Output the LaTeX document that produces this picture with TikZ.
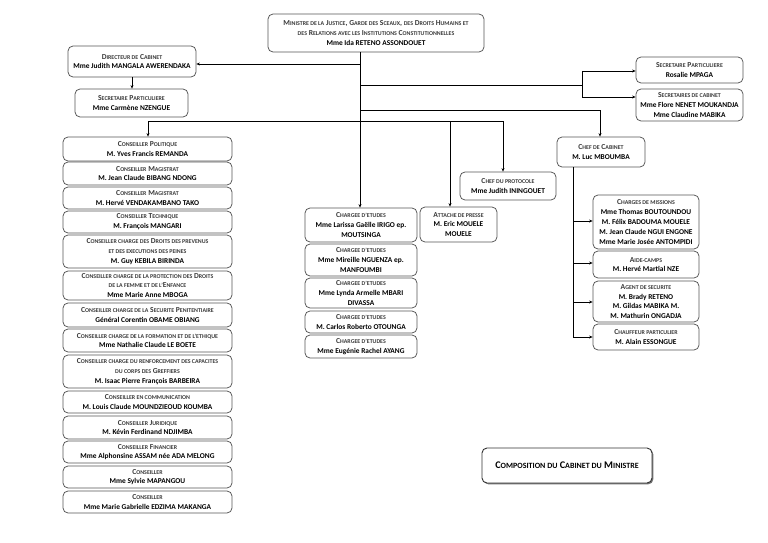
\documentclass[tikz,border=0pt]{standalone}
\usepackage{fontspec}
\setmainfont{Carlito}
\usetikzlibrary{arrows.meta,shadows}
\definecolor{boxc}{HTML}{555555}
\definecolor{labc}{HTML}{3A3A3A}
\newcommand\smc[1]{{\fontsize{5.9}{7}\selectfont\uppercase{#1}}}
\newcommand\lb[1]{{\color{labc}\fontsize{7.6}{9.8}\selectfont #1}}
\newcommand\bx[6]{\node[box,minimum width={(#4)-(#2)},minimum height={(#5)-(#3)}] (#1) at ({((#2)+(#4))/2},{((#3)+(#5))/2}) {#6};}
\begin{document}
\begin{tikzpicture}[x=1pt,y=-1pt,
  box/.style={draw=boxc,line width=0.75pt,rounded corners=5pt,inner sep=0pt,align=center,fill=white,
    font=\fontsize{7.4}{9.8}\selectfont\bfseries},
  ln/.style={line width=0.75pt,black},
  arr/.style={ln,-{Stealth[length=3.5pt,width=3pt]}}]
\useasboundingbox[fill=white] (0,0) rectangle (768,543);

% top
\bx{min}{268}{14}{484}{52}{\lb{M\smc{inistre de la} J\smc{ustice}, G\smc{arde des} S\smc{ceaux}, \smc{des} D\smc{roits} H\smc{umains et}}\\ \lb{\smc{des} R\smc{elations avec les} I\smc{nstitutions} C\smc{onstitutionnelles}}\\ Mme Ida RETENO ASSONDOUET}
\bx{dir}{68}{46}{196}{77}{\lb{D\smc{irecteur de} C\smc{abinet}}\\ Mme Judith MANGALA AWERENDAKA}
\bx{sec}{75}{89}{188}{117}{\lb{S\smc{ecretaire} P\smc{articuliere}}\\ Mme Carmène NZENGUE}
\bx{spr}{636}{57}{743}{83}{\lb{S\smc{ecretaire} P\smc{articuliere}}\\ Rosalie MPAGA}
\bx{scab}{636}{89}{743}{121}{\lb{S\smc{ecretaires de cabinet}}\\ Mme Flore NENET MOUKANDJA\\ Mme Claudine MABIKA}
\bx{chef}{557}{137}{645}{167}{\lb{C\smc{hef de} C\smc{abinet}}\\ M. Luc MBOUMBA}
\bx{prot}{460}{172}{556}{200}{\lb{C\smc{hef du protocole}}\\ Mme Judith ININGOUET}
\bx{att}{420}{207}{497}{242}{\lb{A\smc{ttache de presse}}\\ M. Eric MOUELE\\ MOUELE}

% charges d'etudes
\bx{ce1}{305}{208}{417}{242}{\lb{C\smc{hargee d'etudes}}\\ Mme Larissa Gaëlle IRIGO ep.\\ MOUTSINGA}
\bx{ce2}{305}{244}{417}{276}{\lb{C\smc{hargee d'etudes}}\\ Mme Mireille NGUENZA ep.\\ MANFOUMBI}
\bx{ce3}{305}{278}{417}{308}{\lb{C\smc{hargee d'etudes}}\\ Mme Lynda Armelle MBARI\\ DIVASSA}
\bx{ce4}{305}{311}{417}{333}{\lb{C\smc{hargee d'etudes}}\\ M. Carlos Roberto OTOUNGA}
\bx{ce5}{305}{335}{417}{358}{\lb{C\smc{hargee d'etudes}}\\ Mme Eugénie Rachel AYANG}

% right column
\bx{mis}{593}{195}{699}{249}{\lb{C\smc{harges de missions}}\\ Mme Thomas BOUTOUNDOU\\ M. Félix BADOUMA MOUELE\\ M. Jean Claude NGUI ENGONE\\ Mme Marie Josée ANTOMPIDI}
\bx{aide}{593}{251}{699}{278}{\lb{A\smc{ide-camps}}\\ M. Hervé Martial NZE}
\bx{agent}{593}{281}{699}{322}{\lb{A\smc{gent de securite}}\\ M. Brady RETENO\\ M. Gildas MABIKA M.\\ M. Mathurin ONGADJA}
\bx{chauf}{593}{324}{699}{350}{\lb{C\smc{hauffeur particulier}}\\ M. Alain ESSONGUE}

% left column
\bx{c1}{63}{137}{232}{161}{\lb{C\smc{onseiller} P\smc{olitique}}\\ M. Yves Francis REMANDA}
\bx{c2}{63}{162}{232}{185}{\lb{C\smc{onseiller} M\smc{agistrat}}\\ M. Jean Claude BIBANG NDONG}
\bx{c3}{63}{187}{232}{209}{\lb{C\smc{onseiller} M\smc{agistrat}}\\ M. Hervé VENDAKAMBANO TAKO}
\bx{c4}{63}{211}{232}{233}{\lb{C\smc{onseiller} T\smc{echnique}}\\ M. François MANGARI}
\bx{c5}{63}{235}{232}{268}{\lb{C\smc{onseiller charge des} D\smc{roits des prevenus}}\\ \lb{\smc{et des executions des peines}}\\ M. Guy KEBILA BIRINDA}
\bx{c6}{63}{271}{232}{300}{\lb{C\smc{onseiller charge de la protection des} D\smc{roits}}\\ \lb{\smc{de la femme et de l'}E\smc{nfance}}\\ Mme Marie Anne MBOGA}
\bx{c7}{63}{303}{232}{327}{\lb{C\smc{onseiller charge de la} S\smc{ecurite} P\smc{enitentiaire}}\\ Général Corentin OBAME OBIANG}
\bx{c8}{63}{329}{232}{352}{\lb{C\smc{onseiller charge de la formation et de l'ethique}}\\ Mme Nathalie Claude LE BOETE}
\bx{c9}{63}{355}{232}{388}{\lb{C\smc{onseiller charge du renforcement des capacites}}\\ \lb{\smc{du corps des} G\smc{reffiers}}\\ M. Isaac Pierre François BARBEIRA}
\bx{c10}{63}{391}{232}{413}{\lb{C\smc{onseiller en communication}}\\ M. Louis Claude MOUNDZIEOUD KOUMBA}
\bx{c11}{63}{416}{232}{439}{\lb{C\smc{onseiller} J\smc{uridique}}\\ M. Kévin Ferdinand NDJIMBA}
\bx{c12}{63}{441}{232}{463}{\lb{C\smc{onseiller} F\smc{inancier}}\\ Mme Alphonsine ASSAM née ADA MELONG}
\bx{c13}{63}{466}{232}{488}{\lb{C\smc{onseiller}}\\ Mme Sylvie MAPANGOU}
\bx{c14}{63}{491}{232}{513}{\lb{C\smc{onseiller}}\\ Mme Marie Gabrielle EDZIMA MAKANGA}

% title
\node[box,line width=0.9pt,draw=black!80,minimum width=170pt,minimum height=35pt,
  drop shadow={shadow xshift=1.3pt,shadow yshift=-1.3pt,fill=black!55,opacity=1},
  font=\fontsize{10.2}{12}\selectfont\bfseries] (title) at (567,465.5)
  {C{\fontsize{8}{10}\selectfont OMPOSITION DU} C{\fontsize{8}{10}\selectfont ABINET DU} M{\fontsize{8}{10}\selectfont INISTRE}};

% connectors
\coordinate (tk) at (360,0);
\draw[arr] (tk |- min.south) -- (tk |- ce1.north);
\coordinate (jd) at (360,64);
\draw[arr] (jd) -- (jd -| dir.east);
\draw[arr] (dir.south) -- (dir.south |- sec.north);
\coordinate (js) at (360,85);
\coordinate (bs) at (582,85);
\draw[ln] (js) -- (bs);
\coordinate (bs1) at (582,71);
\coordinate (bs2) at (582,97);
\draw[ln] (bs1) -- (bs2);
\draw[arr] (bs1) -- (bs1 -| spr.west);
\draw[arr] (bs2) -- (bs2 -| scab.west);
\coordinate (jc) at (360,110);
\coordinate (bc) at (600,110);
\draw[arr] (jc) -- (bc) -- (bc |- chef.north);
\coordinate (hl) at (148,121);
\coordinate (hr) at (503,121);
\coordinate (ha) at (450,121);
\draw[ln] (hl) -- (hr);
\draw[arr] (hl) -- (hl |- c1.north);
\draw[arr] (ha) -- (ha |- att.north);
\draw[arr] (hr) -- (hr |- prot.north);
\coordinate (vc) at (573,0);
\coordinate (vb) at (573,337);
\draw[ln] (vc |- chef.south) -- (vb);
\foreach \n/\yy in {mis/221,aide/263,agent/302,chauf/337}{
  \coordinate (m\n) at (573,\yy);
  \draw[arr] (m\n) -- (m\n -| \n.west);
}
\end{tikzpicture}
\end{document}
